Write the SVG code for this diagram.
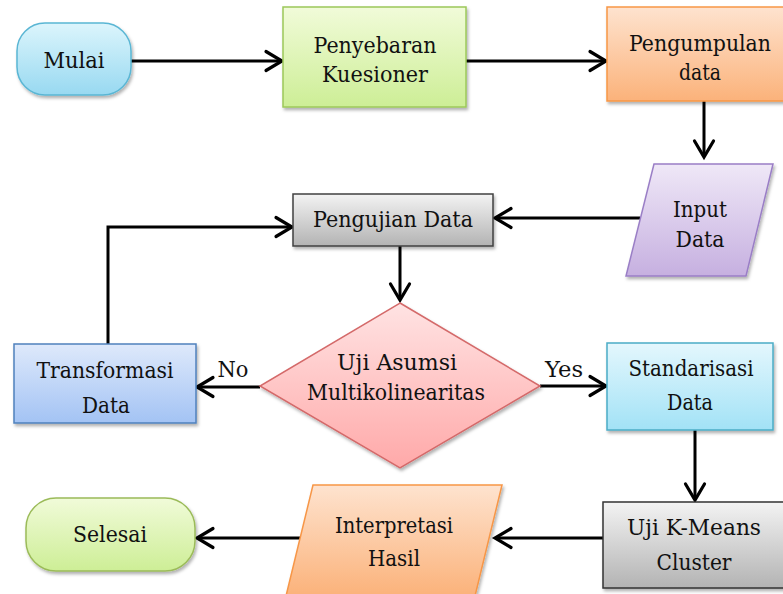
<svg xmlns="http://www.w3.org/2000/svg" width="783" height="594" viewBox="0 0 783 594">
<style>
.t{font-family:'DejaVu Serif','Liberation Serif',serif;font-size:22px;fill:#111;text-anchor:middle}
.c{fill:none;stroke:#000;stroke-width:3;marker-end:url(#ah)}
.n{filter:url(#sh);stroke-width:1.5}
</style>
<defs>
<marker id="ah" markerUnits="userSpaceOnUse" markerWidth="22" markerHeight="24" refX="18" refY="11" orient="auto" overflow="visible">
<path d="M2,1.5 L18,11 L2,20.5" fill="none" stroke="#000" stroke-width="3.2" stroke-linecap="round" stroke-linejoin="miter"/>
</marker>
<filter id="sh" x="-10%" y="-10%" width="125%" height="130%">
<feDropShadow dx="1.5" dy="2.5" stdDeviation="1.5" flood-color="#000" flood-opacity="0.3"/>
</filter>
<linearGradient id="gCyan" x1="0" y1="0" x2="0" y2="1"><stop offset="0" stop-color="#dcf5fc"/><stop offset="1" stop-color="#98d9f1"/></linearGradient>
<linearGradient id="gGreen" x1="0" y1="0" x2="0" y2="1"><stop offset="0" stop-color="#f1fbd9"/><stop offset="1" stop-color="#cdee96"/></linearGradient>
<linearGradient id="gOrange" x1="0" y1="0" x2="0" y2="1"><stop offset="0" stop-color="#fee3cf"/><stop offset="1" stop-color="#fbb27a"/></linearGradient>
<linearGradient id="gPurple" x1="0" y1="0" x2="0" y2="1"><stop offset="0" stop-color="#efe8f7"/><stop offset="1" stop-color="#c6b0e0"/></linearGradient>
<linearGradient id="gGray" x1="0" y1="0" x2="0" y2="1"><stop offset="0" stop-color="#f3f3f3"/><stop offset="1" stop-color="#b3b3b3"/></linearGradient>
<linearGradient id="gRed" x1="0" y1="0" x2="0" y2="1"><stop offset="0" stop-color="#ffe3e3"/><stop offset="1" stop-color="#ffa9a9"/></linearGradient>
<linearGradient id="gBlue" x1="0" y1="0" x2="0" y2="1"><stop offset="0" stop-color="#dee9fb"/><stop offset="1" stop-color="#a3c3f4"/></linearGradient>
<linearGradient id="gSky" x1="0" y1="0" x2="0" y2="1"><stop offset="0" stop-color="#e4f7fd"/><stop offset="1" stop-color="#a2e2f6"/></linearGradient>
</defs>
<rect width="783" height="594" fill="#fff"/>

<g id="connectors">
<line class="c" x1="131" y1="61" x2="282" y2="61"/>
<line class="c" x1="466" y1="61" x2="606" y2="61"/>
<line class="c" x1="704" y1="101" x2="704" y2="157"/>
<line class="c" x1="640" y1="218" x2="495" y2="218"/>
<line class="c" x1="400" y1="246" x2="400" y2="300"/>
<line class="c" x1="260" y1="387" x2="197" y2="387"/>
<polyline class="c" points="108,344 108,227 292,227"/>
<line class="c" x1="540" y1="386" x2="606" y2="386"/>
<line class="c" x1="695" y1="430" x2="695" y2="500"/>
<line class="c" x1="603" y1="538" x2="495" y2="538"/>
<line class="c" x1="300" y1="538" x2="197" y2="538"/>
<text class="t" x="233" y="377" textLength="31" lengthAdjust="spacingAndGlyphs">No</text>
<text class="t" x="564" y="377" textLength="38" lengthAdjust="spacingAndGlyphs">Yes</text>
</g>

<g id="mulai">
<rect class="n" x="17" y="23" width="114" height="72" rx="28" ry="28" fill="url(#gCyan)" stroke="#5ab6d4"/>
<text class="t" x="74" y="68" textLength="61" lengthAdjust="spacingAndGlyphs">Mulai</text>
</g>

<g id="penyebaran">
<rect class="n" x="283" y="7" width="183" height="100" fill="url(#gGreen)" stroke="#9cc85a"/>
<text class="t" x="375" y="53" textLength="123" lengthAdjust="spacingAndGlyphs">Penyebaran</text>
<text class="t" x="375" y="82" textLength="106" lengthAdjust="spacingAndGlyphs">Kuesioner</text>
</g>

<g id="pengumpulan">
<rect class="n" x="607" y="7" width="180" height="94" fill="url(#gOrange)" stroke="#f79646"/>
<text class="t" x="700" y="51" textLength="142" lengthAdjust="spacingAndGlyphs">Pengumpulan</text>
<text class="t" x="700" y="80" textLength="42" lengthAdjust="spacingAndGlyphs">data</text>
</g>

<g id="input">
<polygon class="n" points="654,164 773,164 746,276 626,276" fill="url(#gPurple)" stroke="#9a7ec6"/>
<text class="t" x="700" y="217" textLength="54" lengthAdjust="spacingAndGlyphs">Input</text>
<text class="t" x="700" y="247" textLength="49" lengthAdjust="spacingAndGlyphs">Data</text>
</g>

<g id="pengujian">
<rect class="n" x="293" y="194" width="200" height="52" fill="url(#gGray)" stroke="#404040"/>
<text class="t" x="393" y="227" textLength="160" lengthAdjust="spacingAndGlyphs">Pengujian Data</text>
</g>

<g id="uji-asumsi">
<polygon class="n" points="400,303 540,386 400,468 260,386" fill="url(#gRed)" stroke="#d46a6a"/>
<text class="t" x="397" y="370" textLength="120" lengthAdjust="spacingAndGlyphs">Uji Asumsi</text>
<text class="t" x="396" y="400" textLength="178" lengthAdjust="spacingAndGlyphs">Multikolinearitas</text>
</g>

<g id="transformasi">
<rect class="n" x="14" y="344" width="182" height="79" fill="url(#gBlue)" stroke="#4f81bd"/>
<text class="t" x="105" y="378" textLength="137" lengthAdjust="spacingAndGlyphs">Transformasi</text>
<text class="t" x="106" y="413" textLength="48" lengthAdjust="spacingAndGlyphs">Data</text>
</g>

<g id="standarisasi">
<rect class="n" x="607" y="343" width="166" height="87" fill="url(#gSky)" stroke="#4bacc6"/>
<text class="t" x="691" y="376" textLength="125" lengthAdjust="spacingAndGlyphs">Standarisasi</text>
<text class="t" x="690" y="410" textLength="46" lengthAdjust="spacingAndGlyphs">Data</text>
</g>

<g id="kmeans">
<rect class="n" x="603" y="502" width="184" height="86" fill="url(#gGray)" stroke="#333"/>
<text class="t" x="694" y="535" textLength="134" lengthAdjust="spacingAndGlyphs">Uji K-Means</text>
<text class="t" x="694" y="570" textLength="75" lengthAdjust="spacingAndGlyphs">Cluster</text>
</g>

<g id="interpretasi">
<polygon class="n" points="313,485 502,485 475,596 286,596" fill="url(#gOrange)" stroke="#f79646"/>
<text class="t" x="394" y="533" textLength="118" lengthAdjust="spacingAndGlyphs">Interpretasi</text>
<text class="t" x="394" y="566" textLength="52" lengthAdjust="spacingAndGlyphs">Hasil</text>
</g>

<g id="selesai">
<rect class="n" x="26" y="498" width="169" height="73" rx="30" ry="30" fill="url(#gGreen)" stroke="#9bbb59"/>
<text class="t" x="110" y="542" textLength="74" lengthAdjust="spacingAndGlyphs">Selesai</text>
</g>
</svg>
